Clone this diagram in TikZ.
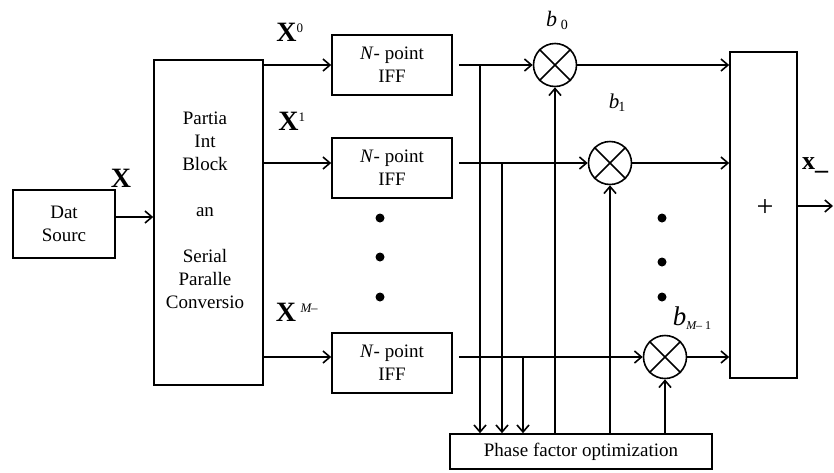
\documentclass[tikz,border=0pt]{standalone}
\usepackage{fontspec}
\setmainfont{Liberation Serif}
\usetikzlibrary{positioning,arrows.meta}

\begin{document}
\begin{tikzpicture}[x=1pt,y=-1pt,line width=1.6pt,
  every node/.style={inner sep=0pt,align=center},
  box/.style={draw,font=\fontsize{19}{23}\selectfont},
  txt/.style={font=\fontsize{19}{23}\selectfont},
  mul/.style={draw,circle,minimum size=43pt},
  lbl/.style={font=\fontsize{28}{28}\selectfont\bfseries},
  sig/.style={-{Straight Barb[length=7pt,width=12pt]}}]
  \useasboundingbox (0,0) rectangle (834,472);
  \node[box,minimum width=102pt,minimum height=68pt] (src) at (64,224) {Dat\\Sourc};
  \node[draw,minimum width=109pt,minimum height=325pt] (sp) at (208.5,222.5) {};
  \node[txt] (sptext) at (205,210.5) {Partia\\Int\\Block\\[23pt]an\\[23pt]Serial\\Paralle\\Conversio};
  \node[box,minimum width=120pt,minimum height=60pt] (ifft1) at (392,65) {\textit{N}- point\\IFF};
  \node[box,minimum width=120pt,minimum height=60pt] (ifft2) at (392,168) {\textit{N}- point\\IFF};
  \node[box,minimum width=120pt,minimum height=60pt] (ifft3) at (392,363) {\textit{N}- point\\IFF};
  \node[draw,minimum width=67pt,minimum height=326pt] (add) at (763.5,215) {};
  \node[font=\fontsize{30}{30}\selectfont\mdseries] (plus) at (765,208) {+};
  \node[box,minimum width=262pt,minimum height=35pt] (pf) at (581,451.5) {Phase factor optimization};
  \coordinate (xin) at ([yshift=7pt]src.east);
  \coordinate (f0) at ([xshift=6pt]ifft1.east);
  \coordinate (f1) at ([xshift=6pt,yshift=5pt]ifft2.east);
  \coordinate (f2) at ([xshift=6pt,yshift=6pt]ifft3.east);
  \node[mul] (m0) at (555,65) {};
  \node[mul] (m1) at (610,163) {};
  \node[mul] (m2) at (665,357) {};
  \foreach \m in {m0,m1,m2}
    \draw (\m.north east) -- (\m.south west) (\m.north west) -- (\m.south east);
  \coordinate (t0) at (480,65);
  \coordinate (t1) at (502,163);
  \coordinate (t2) at (523,357);
  \coordinate (xout) at (833,206);
  % labels
  \node[lbl] (lx) at (121,178) {X};
  \node[lbl] (lx0) at (290,32) {X\textsuperscript{\normalfont\fontsize{13}{13}\selectfont 0}};
  \node[lbl] (lx1) at (292,121) {X\textsuperscript{\normalfont\fontsize{13}{13}\selectfont 1}};
  \node[lbl] (lx2) at (297,312) {X\,\textsuperscript{\normalfont\fontsize{13}{13}\selectfont\textit{M}\kern-1pt–}};
  \node[font=\fontsize{22}{22}\selectfont] (b0) at (557,20) {\textit{b}\,\raisebox{-3pt}{\fontsize{14}{14}\selectfont 0}};
  \node[font=\fontsize{21}{21}\selectfont] (b1) at (617,103) {\textit{b}\kern-1pt\raisebox{-3pt}{\fontsize{14}{14}\selectfont 1}};
  \node[font=\fontsize{27}{27}\selectfont] (b2) at (692,318) {\textit{b}\raisebox{-4pt}{\fontsize{12}{12}\selectfont\textit{M}\kern-1pt– 1}};
  \node[font=\fontsize{26}{26}\selectfont\bfseries] (lxo) at (815,165) {x\_};
  \foreach \y in {218,257,297}
    \fill (380,\y) circle (4.5pt);
  \foreach \y in {218,262,297}
    \fill (662,\y) circle (4.5pt);
  % connectors
  \draw[sig] (xin) -- (xin -| sp.west);
  \draw[sig] (sp.east |- f0) -- (ifft1.west |- f0);
  \draw[sig] (sp.east |- f1) -- (ifft2.west |- f1);
  \draw[sig] (sp.east |- f2) -- (ifft3.west |- f2);
  \draw[sig] (f0) -- (m0.west);
  \draw[sig] (f1) -- (m1.west);
  \draw[sig] (f2) -- (m2.west);
  \draw[sig] (m0.east) -- (add.west |- m0);
  \draw[sig] (m1.east) -- (add.west |- m1);
  \draw[sig] (m2.east) -- (add.west |- m2);
  \draw[sig] (add.east |- xout) -- (xout);
  \draw[sig] (t0) -- (t0 |- pf.north);
  \draw[sig] (t1) -- (t1 |- pf.north);
  \draw[sig] (t2) -- (t2 |- pf.north);
  \draw[sig] (m0 |- pf.north) -- (m0.south);
  \draw[sig] (m1 |- pf.north) -- (m1.south);
  \draw[sig] (m2 |- pf.north) -- (m2.south);
\end{tikzpicture}
\end{document}
